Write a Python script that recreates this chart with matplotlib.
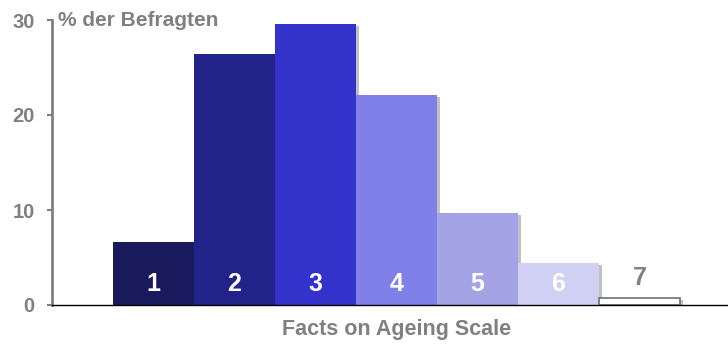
import matplotlib.pyplot as plt
import matplotlib.patheffects as pe

plt.rcParams['font.family'] = ['Liberation Sans', 'DejaVu Sans']

# data
categories = ['1', '2', '3', '4', '5', '6', '7']
values = [6.6, 26.4, 29.6, 22.1, 9.7, 4.4, 0.7]
colors = ['#19195e', '#222288', '#3333cc', '#8080e8', '#a3a3e6', '#d0d0f4', '#ffffff']
yticks = [0, 10, 20, 30]

gray = '#808080'

fig = plt.figure(figsize=(7.28, 3.45), dpi=100)
ax = fig.add_axes([52 / 728, 40 / 345, 676 / 728, 285 / 345])

x = list(range(1, len(values) + 1))
bars = ax.bar(x, values, width=1.0, color=colors,
              edgecolor=['none'] * 6 + ['#707070'], linewidth=1.2)
for b in bars:
    b.set_path_effects([pe.SimplePatchShadow(offset=(2, -1.5), shadow_rgbFace='#999999', alpha=0.6),
                        pe.Normal()])

# numbers inside the bars (white), last one in gray above its tiny bar
for xi, lab, v in zip(x, categories, values):
    if v > 3:
        ax.text(xi, 2.2, lab, ha='center', va='center', color='white',
                fontsize=18, fontweight='bold')
    else:
        ax.text(xi, 2.85, lab, ha='center', va='center', color=gray,
                fontsize=18, fontweight='bold')

ax.set_xlim(x[0] - 101.5 / 81, x[0] + (728 - 153.5) / 81)
ax.set_ylim(0, 30)
ax.set_yticks(yticks)
ax.set_xticks([])
ax.tick_params(axis='y', colors=gray, length=3.6, width=1.5, labelsize=14.5, pad=9)
for t in ax.get_yticklabels():
    t.set_fontweight('bold')

ax.spines['top'].set_visible(False)
ax.spines['right'].set_visible(False)
ax.spines['left'].set_color(gray)
ax.spines['left'].set_linewidth(2)
ax.spines['bottom'].set_color('black')
ax.spines['bottom'].set_linewidth(1)

fig.text(58 / 728, 1 - 20 / 345, '% der Befragten', color=gray, fontsize=15,
         fontweight='bold', ha='left', va='center')
fig.text(397 / 728, 1 - 329 / 345, 'Facts on Ageing Scale', color=gray, fontsize=15.5,
         fontweight='bold', ha='center', va='center')

fig.savefig('out.png', dpi=100)
